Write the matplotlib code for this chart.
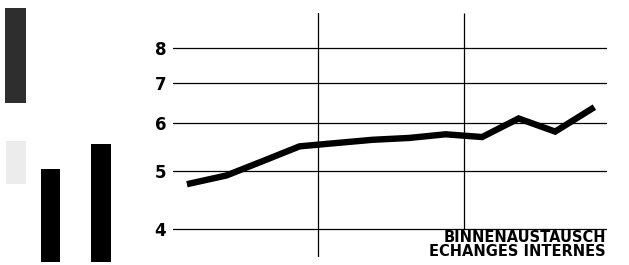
import numpy as np
import matplotlib.pyplot as plt

# index values (log scale), one per year
years = list(range(12))
values = [4.76, 4.91, 5.19, 5.49, 5.56, 5.63, 5.67, 5.75, 5.69, 6.11, 5.81, 6.34]
yticks = [4, 5, 6, 7, 8]
vlines_at = [3.5, 7.5]

# left side block bars
bar_pos = [1, 2]
bar_tops = [5.03, 5.55]
bar_base = 3.52
patch_x = 0.31
patch_lo, patch_hi = 6.49, 9.34
speck_lo, speck_hi = 4.75, 5.6

label1 = 'BINNENAUSTAUSCH'
label2 = 'ECHANGES INTERNES'

W, H = 629, 265
fig = plt.figure(figsize=(W / 100, H / 100), dpi=100)

ymin, ymax = 3.59, 9.16
ax = fig.add_axes([173 / W, 1 - 257 / H, (607 - 173) / W, (257 - 13) / H])
ax.set_yscale('log')
ax.set_ylim(ymin, ymax)
ax.set_xlim(-0.466, 11.42)
for v in yticks:
    ax.axhline(v, color='black', lw=0.9)
ax.axvline(vlines_at[0], color='black', lw=0.9)
# second divider stops at the bottom gridline, above the caption
ax.vlines(vlines_at[1], yticks[0], ymax, color='black', lw=0.9)
ax.plot(years, values, color='black', lw=4.6, solid_joinstyle='miter')
ax.set_yticks(yticks)
ax.set_yticklabels([str(v) for v in yticks], fontsize=12, fontweight='bold',
                   family=['Liberation Sans Narrow', 'DejaVu Sans'])
ax.yaxis.set_minor_locator(plt.NullLocator())
ax.tick_params(axis='y', length=0, pad=5)
ax.set_xticks([])
for s in ax.spines.values():
    s.set_visible(False)
ax.text(0.997, 0.112, label1 + '\n' + label2, transform=ax.transAxes, ha='right',
        va='top', fontsize=10.5, fontweight='bold', linespacing=0.98)

# left bars share the log scale
bx = fig.add_axes([0, 1 - 257 / H, 150 / W, (257 - 13) / H])
bx.set_yscale('log')
bx.set_ylim(ymin, ymax)
bx.set_xlim(0, 2.97)
bx.bar(bar_pos, [t - bar_base for t in bar_tops], bottom=bar_base, width=0.38,
       color='black', clip_on=False)
bx.bar([patch_x], [patch_hi - patch_lo], bottom=patch_lo, width=0.42,
       color='#2e2e2e', clip_on=False)
bx.bar([patch_x], [speck_hi - speck_lo], bottom=speck_lo, width=0.4,
       color='#ececec', clip_on=False)
bx.axis('off')

fig.savefig('out.png', dpi=100)
